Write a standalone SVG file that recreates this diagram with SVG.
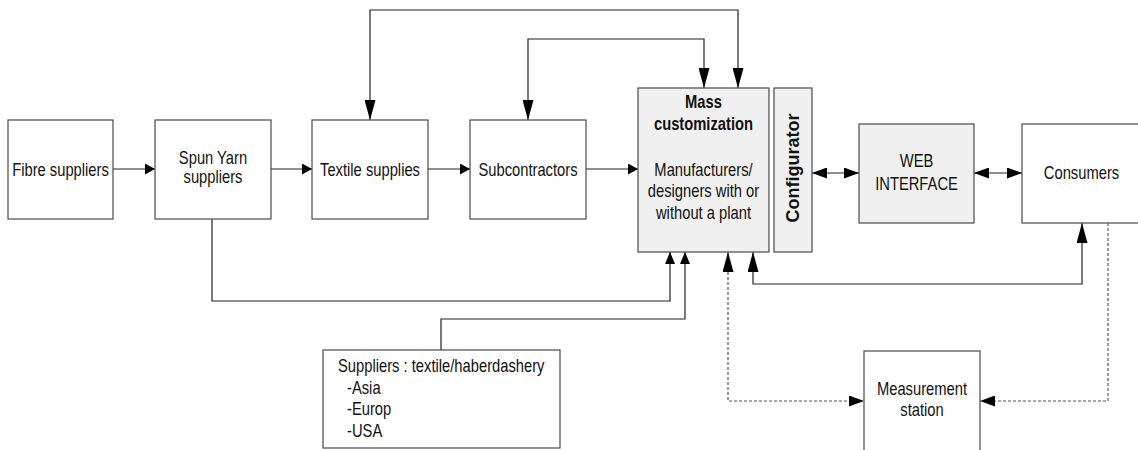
<svg xmlns="http://www.w3.org/2000/svg" width="1138" height="450" viewBox="0 0 1138 450">
<style>
.box{fill:#fff;stroke:#4a4a4a;stroke-width:1.2}
.gray{fill:#f0f0f0}
.t{font-family:"Liberation Sans",Arial,sans-serif;font-size:18px;fill:#111;text-anchor:middle}
.b{font-weight:bold}
.l{text-anchor:start}
.cfg{font-family:"Liberation Sans",Arial,sans-serif;font-size:18px;font-weight:bold;fill:#111;text-anchor:middle}
.c{fill:none;stroke:#222;stroke-width:1.2}
.d{fill:none;stroke:#555;stroke-width:1.2;stroke-dasharray:3,2}
</style>
<defs>
<marker id="s" markerUnits="userSpaceOnUse" markerWidth="10" markerHeight="11" viewBox="0 0 10 11" refX="10" refY="5.5" orient="auto-start-reverse"><path d="M0,0L10,5.5L0,11z" fill="#000"/></marker>
<marker id="b" markerUnits="userSpaceOnUse" markerWidth="12" markerHeight="10" viewBox="0 0 12 10" refX="12" refY="5" orient="auto-start-reverse"><path d="M0,0L12,5L0,10z" fill="#000"/></marker>
<marker id="m" markerUnits="userSpaceOnUse" markerWidth="15" markerHeight="11" viewBox="0 0 15 11" refX="15" refY="5.5" orient="auto-start-reverse"><path d="M0,0L15,5.5L0,11z" fill="#000"/></marker>
<marker id="l" markerUnits="userSpaceOnUse" markerWidth="20" markerHeight="11" viewBox="0 0 20 11" refX="20" refY="5.5" orient="auto-start-reverse"><path d="M0,0L20,5.5L0,11z" fill="#000"/></marker>
</defs>
<g id="connectors">
<path class="c" d="M113,169H155" marker-end="url(#s)"/>
<path class="c" d="M271,169H312" marker-end="url(#s)"/>
<path class="c" d="M428,169H470" marker-end="url(#s)"/>
<path class="c" d="M586,169H638" marker-end="url(#s)"/>
<path class="c" d="M738,88V10H370V120" marker-start="url(#l)" marker-end="url(#l)"/>
<path class="c" d="M704,88V39H528V120" marker-start="url(#l)" marker-end="url(#l)"/>
<path class="c" d="M212,219V301H670V252" marker-end="url(#b)"/>
<path class="c" d="M441,350V319H685V252" marker-end="url(#b)"/>
<path class="c" d="M753,252V284H1082V223" marker-start="url(#l)" marker-end="url(#l)"/>
<path class="d" d="M728,252V401H864" marker-start="url(#l)" marker-end="url(#m)"/>
<path class="d" d="M1108,223V401H980" marker-end="url(#m)"/>
<path class="c" d="M812,173H859" marker-start="url(#m)" marker-end="url(#m)"/>
<path class="c" d="M974,173H1022" marker-start="url(#m)" marker-end="url(#m)"/>
</g>
<g id="fibre"><rect class="box" x="8" y="120" width="105" height="99"/><text class="t" transform="translate(60.5,176) scale(0.82,1)">Fibre suppliers</text></g>
<g id="spun"><rect class="box" x="155" y="120" width="116" height="99"/><text class="t" transform="translate(213,164) scale(0.82,1)">Spun Yarn</text><text class="t" transform="translate(213,183) scale(0.82,1)">suppliers</text></g>
<g id="textile"><rect class="box" x="312" y="120" width="116" height="99"/><text class="t" transform="translate(370,176) scale(0.82,1)">Textile supplies</text></g>
<g id="subcontractors"><rect class="box" x="470" y="120" width="116" height="99"/><text class="t" transform="translate(528,176) scale(0.82,1)">Subcontractors</text></g>
<g id="mass"><rect class="box gray" x="638" y="88" width="131" height="164"/><text class="t b" transform="translate(703.5,107.5) scale(0.82,1)">Mass</text><text class="t b" transform="translate(703.5,130) scale(0.82,1)">customization</text><text class="t" transform="translate(703.5,175.5) scale(0.82,1)">Manufacturers/</text><text class="t" transform="translate(703.5,197) scale(0.82,1)">designers with or</text><text class="t" transform="translate(703.5,219) scale(0.82,1)">without a plant</text></g>
<g id="configurator"><rect class="box gray" x="774" y="88" width="38" height="164"/><text class="cfg" transform="translate(799,168) rotate(-90)">Configurator</text></g>
<g id="web"><rect class="box gray" x="859" y="124" width="115" height="99"/><text class="t" transform="translate(916.5,166.5) scale(0.82,1)">WEB</text><text class="t" transform="translate(916.5,190) scale(0.82,1)">INTERFACE</text></g>
<g id="consumers"><rect class="box" x="1022" y="124" width="118" height="99"/><text class="t" transform="translate(1081.5,179) scale(0.82,1)">Consumers</text></g>
<g id="measurement"><rect class="box" x="864" y="351" width="116" height="102"/><text class="t" transform="translate(922,394.5) scale(0.82,1)">Measurement</text><text class="t" transform="translate(922,416) scale(0.82,1)">station</text></g>
<g id="suppliers"><rect class="box" x="323" y="350" width="237" height="98"/><text class="t l" transform="translate(338,371.5) scale(0.82,1)">Suppliers : textile/haberdashery</text><text class="t l" transform="translate(347,393.5) scale(0.82,1)">-Asia</text><text class="t l" transform="translate(347,415) scale(0.82,1)">-Europ</text><text class="t l" transform="translate(347,436.5) scale(0.82,1)">-USA</text></g>
</svg>
